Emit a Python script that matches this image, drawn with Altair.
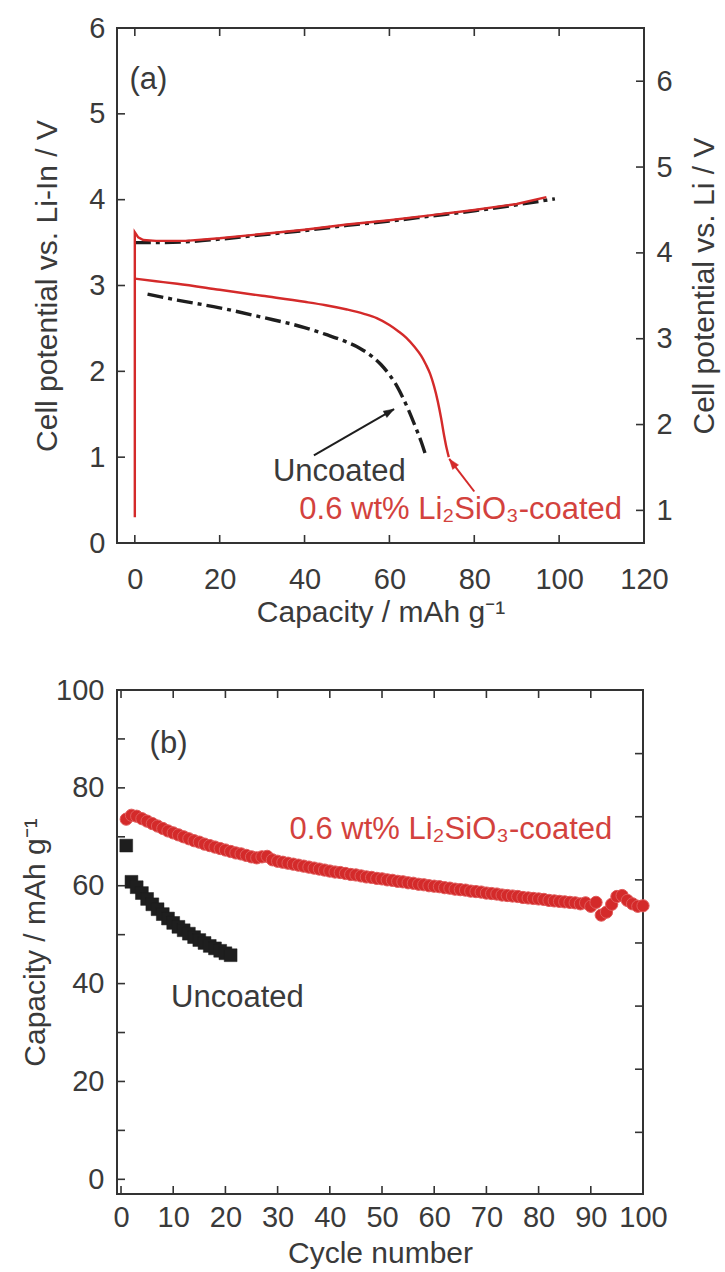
import math
import altair as alt
import pandas as pd

# ---------------- Panel (a): charge / discharge curves ----------------
# coated (red, solid): initial rise at x=0 then charge curve
coated_charge_x = [0, 0, 0.8, 2, 5, 12, 20, 30, 40, 50, 60, 70, 80, 90, 97]
coated_charge_y = [0.30, 3.62, 3.56, 3.53, 3.52, 3.52, 3.55, 3.60, 3.65, 3.71, 3.76, 3.82, 3.88, 3.95, 4.03]
coated_dis_x = [0, 5, 10, 20, 30, 40, 45, 50, 54, 57, 60, 62, 64, 66, 67.5, 68.6, 69.6, 70.5, 71.4, 72.2, 72.9, 73.5, 74.0]
coated_dis_y = [3.08, 3.05, 3.02, 2.95, 2.88, 2.81, 2.77, 2.72, 2.67, 2.62, 2.54, 2.47, 2.39, 2.28, 2.18, 2.08, 1.97, 1.83, 1.65, 1.45, 1.25, 1.10, 1.00]
# uncoated (black, dash-dot)
uncoated_charge_x = [0, 5, 12, 20, 30, 40, 50, 60, 70, 80, 90, 99]
uncoated_charge_y = [3.50, 3.50, 3.51, 3.54, 3.59, 3.64, 3.70, 3.75, 3.81, 3.87, 3.94, 4.01]
uncoated_dis_x = [3, 10, 20, 30, 40, 45, 50, 53, 56, 58, 60, 61.5, 63, 64.5, 66, 67.5, 68.7]
uncoated_dis_y = [2.90, 2.83, 2.74, 2.63, 2.51, 2.43, 2.34, 2.27, 2.17, 2.08, 1.96, 1.85, 1.71, 1.55, 1.37, 1.18, 1.00]

xa_ticks = [0, 20, 40, 60, 80, 100, 120]
ya_ticks = [0, 1, 2, 3, 4, 5, 6]
ya_right_ticks = [1, 2, 3, 4, 5, 6]
LI_IN_OFFSET = 0.62

# annotations (a)
a_label = {"x": 3.2, "y": 5.40, "text": "(a)"}
a_uncoated = {"x": 48.2, "y": 0.83, "text": "Uncoated"}
a_coated = {"x": 76.8, "y": 0.38, "text": "0.6 wt% Li₂SiO₃-coated"}
arrow_black = {"x": 42.2, "y": 1.02, "x2": 61.1, "y2": 1.56}
arrow_red = {"x": 80.0, "y": 0.60, "x2": 74.1, "y2": 0.98}

# ---------------- Panel (b): cycling ----------------
coated_cycle = list(range(1, 101))
coated_cap = [73.6, 74.4, 74.2, 73.7, 73.2, 72.7, 72.2, 71.7, 71.2, 70.8,
              70.4, 70.0, 69.6, 69.2, 68.9, 68.5, 68.2, 67.9, 67.6, 67.3,
              67.0, 66.7, 66.5, 66.2, 65.9, 65.7, 65.9, 66.0, 65.3, 65.0,
              64.8, 64.6, 64.4, 64.2, 64.0, 63.8, 63.6, 63.4, 63.2, 63.0,
              62.8, 62.7, 62.5, 62.3, 62.2, 62.0, 61.8, 61.7, 61.5, 61.4,
              61.2, 61.1, 60.9, 60.8, 60.6, 60.5, 60.3, 60.2, 60.0, 59.9,
              59.8, 59.6, 59.5, 59.3, 59.2, 59.1, 58.9, 58.8, 58.7, 58.5,
              58.4, 58.3, 58.1, 58.0, 57.9, 57.8, 57.6, 57.5, 57.4, 57.3,
              57.2, 57.0, 56.9, 56.8, 56.7, 56.6, 56.5, 56.3, 56.5, 55.8,
              56.6, 54.0, 54.6, 56.2, 57.8, 58.0, 57.0, 56.3, 55.8, 55.9]
uncoated_cycle = list(range(1, 22))
uncoated_cap = [68.2, 60.8, 59.7, 58.5, 57.3, 56.2, 55.2, 54.2, 53.3, 52.4,
                51.6, 50.9, 50.2, 49.5, 48.9, 48.3, 47.7, 47.2, 46.7, 46.2, 45.8]

xb_ticks = [0, 10, 20, 30, 40, 50, 60, 70, 80, 90, 100]
yb_label_ticks = [0, 20, 40, 60, 80, 100]
yb_minor_ticks = [0, 10, 20, 30, 40, 50, 60, 70, 80, 90]
yb_right_ticks = [9.6, 22.5, 35.4, 48.3, 61.2, 74.1, 87.0]

b_label = {"x": 9.1, "y": 88.9, "text": "(b)"}
b_uncoated = {"x": 22.3, "y": 37.1, "text": "Uncoated"}
b_coated = {"x": 63.2, "y": 71.3, "text": "0.6 wt% Li₂SiO₃-coated"}

# ---------------- styling ----------------
FONT = "Liberation Sans"
GRAY = "#3a3a3a"
RED = "#d42a2a"
RED_TXT = "#d3423d"
BLACK = "#1e1e1e"
FRAME = "#333333"
TICK_LEN = 8
LABEL_FS = 29
TITLE_FS = 30
ANN_FS = 31

WA, HA = 527, 515
WB, HB = 526, 504
XA_DOM = [-4.2, 120]
YA_DOM = [0, 6]
XB_DOM = [-0.77, 100]
YB_DOM = [-3, 100]

# ---------------- Panel (a) ----------------
def curve_df(xs, ys):
    return pd.DataFrame({"x": xs, "y": ys, "o": list(range(len(xs)))})

xa_scale = alt.Scale(domain=XA_DOM, nice=False, zero=False)
ya_scale = alt.Scale(domain=YA_DOM, nice=False, zero=False)

base_x = alt.X("x:Q", scale=xa_scale,
               axis=alt.Axis(values=xa_ticks, title="Capacity / mAh g⁻¹", format="d",
                             labelPadding=22, titlePadding=3))
base_y = alt.Y("y:Q", scale=ya_scale,
               axis=alt.Axis(values=ya_ticks, title="Cell potential vs. Li-In / V", format="d",
                             labelPadding=12, titlePadding=26))

dash = [16, 5, 4, 5]
l_unc_ch = alt.Chart(curve_df(uncoated_charge_x, uncoated_charge_y)).mark_line(
    color=BLACK, strokeWidth=3.4, strokeDash=dash, interpolate="monotone").encode(
    x=base_x, y=base_y, order="o:Q")
l_unc_dis = alt.Chart(curve_df(uncoated_dis_x, uncoated_dis_y)).mark_line(
    color=BLACK, strokeWidth=3.4, strokeDash=dash, interpolate="monotone").encode(
    x="x:Q", y="y:Q", order="o:Q")
l_coat_ch = alt.Chart(curve_df(coated_charge_x, coated_charge_y)).mark_line(
    color=RED, strokeWidth=2.4).encode(x="x:Q", y="y:Q", order="o:Q")
l_coat_dis = alt.Chart(curve_df(coated_dis_x, coated_dis_y)).mark_line(
    color=RED, strokeWidth=2.4, interpolate="monotone").encode(x="x:Q", y="y:Q", order="o:Q")

# arrows
pxx = WA / (XA_DOM[1] - XA_DOM[0])
pxy = HA / (YA_DOM[1] - YA_DOM[0])
HEAD_SIZE = 150
head_r = math.sqrt(HEAD_SIZE) / 2


def arrow_layers(a, color):
    df = pd.DataFrame([a])
    line = alt.Chart(df).mark_rule(color=color, strokeWidth=2).encode(
        x="x:Q", y="y:Q", x2="x2:Q", y2="y2:Q")
    dxp = (a["x2"] - a["x"]) * pxx
    dyp = (a["y2"] - a["y"]) * pxy  # upward
    ln = math.hypot(dxp, dyp)
    ang = math.degrees(math.atan2(dxp, dyp)) % 360
    cx = a["x2"] - (dxp / ln) * head_r / pxx
    cy = a["y2"] - (dyp / ln) * head_r / pxy
    hdf = pd.DataFrame({"x": [cx], "y": [cy]})
    head = alt.Chart(hdf).mark_point(
        shape="M0,-1L0.6,0.7L-0.6,0.7Z", filled=True, fill=color, stroke=color,
        strokeWidth=0.5, size=HEAD_SIZE, opacity=1, angle=ang).encode(x="x:Q", y="y:Q")
    return [line, head]


def text_layer(d, color, size=ANN_FS, align="center"):
    return alt.Chart(pd.DataFrame([d])).mark_text(
        font=FONT, fontSize=size, color=color, align=align, baseline="middle").encode(
        x="x:Q", y="y:Q", text="text:N")

# inward ticks panel (a)
xa_tick_df = pd.DataFrame({"x": xa_ticks[:-1]})
ya_tick_df = pd.DataFrame({"y": ya_ticks[1:-1]})
tick_style = dict(color=FRAME, strokeWidth=1.6)
ta_bottom = alt.Chart(xa_tick_df).mark_rule(**tick_style).encode(
    x="x:Q", y=alt.value(HA), y2=alt.value(HA - TICK_LEN))
ta_top = alt.Chart(xa_tick_df).mark_rule(**tick_style).encode(
    x="x:Q", y=alt.value(0), y2=alt.value(TICK_LEN))
ta_left = alt.Chart(ya_tick_df).mark_rule(**tick_style).encode(
    y="y:Q", x=alt.value(0), x2=alt.value(TICK_LEN))

left_group = alt.layer(
    l_unc_ch, l_unc_dis, l_coat_ch, l_coat_dis,
    *arrow_layers(arrow_black, BLACK), *arrow_layers(arrow_red, RED),
    text_layer(a_label, GRAY), text_layer(a_uncoated, GRAY), text_layer(a_coated, RED_TXT),
    ta_bottom, ta_top, ta_left,
)

right_df = pd.DataFrame({"r": ya_right_ticks})
right_layer = alt.Chart(right_df).mark_rule(**tick_style).encode(
    y=alt.Y("r:Q",
            scale=alt.Scale(domain=[YA_DOM[0] + LI_IN_OFFSET, YA_DOM[1] + LI_IN_OFFSET],
                            nice=False, zero=False),
            axis=alt.Axis(orient="right", values=ya_right_ticks, format="d",
                          title="Cell potential vs. Li / V", titleAngle=270,
                          titleBaseline="top", labelPadding=12, titlePadding=17)),
    x=alt.value(WA), x2=alt.value(WA - TICK_LEN))

top = alt.layer(left_group, right_layer).resolve_scale(y="independent").properties(
    width=WA, height=HA)

# ---------------- Panel (b) ----------------
xb_scale = alt.Scale(domain=XB_DOM, nice=False, zero=False)
yb_scale = alt.Scale(domain=YB_DOM, nice=False, zero=False)

coated_df = pd.DataFrame({"cycle": coated_cycle, "cap": coated_cap})
uncoated_df = pd.DataFrame({"cycle": uncoated_cycle, "cap": uncoated_cap})

pts_red = alt.Chart(coated_df).mark_point(
    shape="circle", filled=True, fill=RED, stroke="#e05a5a", strokeWidth=1,
    size=150, opacity=1).encode(
    x=alt.X("cycle:Q", scale=xb_scale,
            axis=alt.Axis(values=xb_ticks, title="Cycle number", format="d",
                          labelPadding=9, titlePadding=6)),
    y=alt.Y("cap:Q", scale=yb_scale,
            axis=alt.Axis(values=yb_label_ticks, title="Capacity / mAh g⁻¹", format="d",
                          labelPadding=13, titlePadding=5)))
pts_black = alt.Chart(uncoated_df).mark_point(
    shape="square", filled=True, fill=BLACK, stroke=BLACK, strokeWidth=0.5,
    size=165, opacity=1).encode(x="cycle:Q", y="cap:Q")


def text_b(d, color):
    return alt.Chart(pd.DataFrame([{"cycle": d["x"], "cap": d["y"], "text": d["text"]}])).mark_text(
        font=FONT, fontSize=ANN_FS, color=color, align="center", baseline="middle").encode(
        x="cycle:Q", y="cap:Q", text="text:N")

xb_tick_df = pd.DataFrame({"cycle": xb_ticks[:-1]})
yb_tick_df = pd.DataFrame({"cap": yb_minor_ticks})
yb_rtick_df = pd.DataFrame({"cap": yb_right_ticks})
tb_bottom = alt.Chart(xb_tick_df).mark_rule(**tick_style).encode(
    x="cycle:Q", y=alt.value(HB), y2=alt.value(HB - TICK_LEN))
tb_top = alt.Chart(xb_tick_df).mark_rule(**tick_style).encode(
    x="cycle:Q", y=alt.value(0), y2=alt.value(TICK_LEN))
tb_left = alt.Chart(yb_tick_df).mark_rule(**tick_style).encode(
    y="cap:Q", x=alt.value(0), x2=alt.value(TICK_LEN))
tb_right = alt.Chart(yb_rtick_df).mark_rule(**tick_style).encode(
    y="cap:Q", x=alt.value(WB), x2=alt.value(WB - TICK_LEN))

bottom = alt.layer(
    pts_red, pts_black,
    text_b(b_label, GRAY), text_b(b_uncoated, GRAY), text_b(b_coated, RED_TXT),
    tb_bottom, tb_top, tb_left, tb_right,
).properties(width=WB, height=HB)

chart = alt.vconcat(top, bottom, spacing=47).properties(
    padding={"left": 19, "top": 13, "right": 0, "bottom": 0},
    background="white",
).configure_view(
    stroke=FRAME, strokeWidth=2,
).configure_axis(
    labelFont=FONT, titleFont=FONT, labelFontSize=LABEL_FS, titleFontSize=TITLE_FS,
    labelColor=GRAY, titleColor=GRAY, titleFontWeight="normal",
    ticks=False, domain=False, grid=False, tickSize=0,
    labelFlush=False, labelOverlap=False,
)

chart.save("out.html", embed_options={"renderer": "svg", "actions": False})
